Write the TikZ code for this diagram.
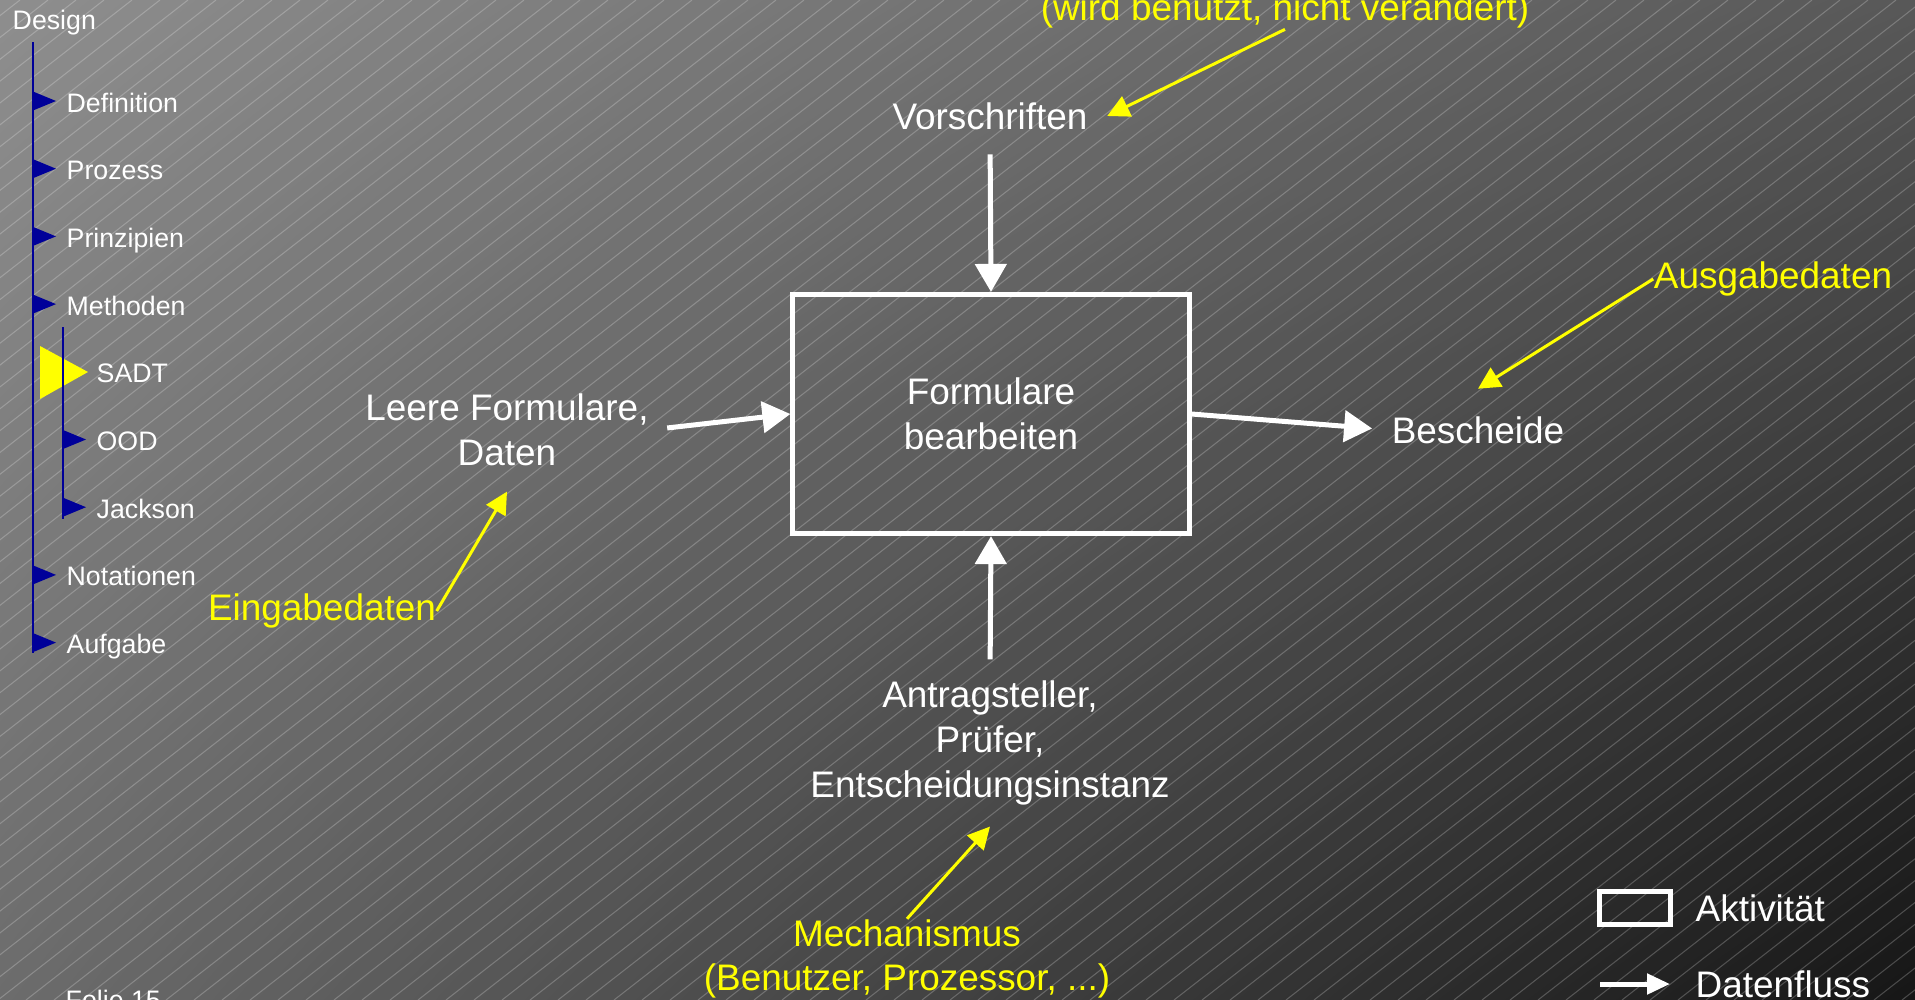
\documentclass[tikz,border=0pt]{standalone}
\usepackage{fontspec}
\setmainfont{Liberation Sans}
\usetikzlibrary{arrows.meta,shadings}
\definecolor{navy}{RGB}{0,0,153}
\definecolor{hint}{RGB}{255,255,0}
\definecolor{bgul}{RGB}{142,142,142}
\definecolor{bgur}{RGB}{88,88,88}
\definecolor{bgll}{RGB}{108,108,108}
\definecolor{bglr}{RGB}{22,22,22}

\begin{document}
\begin{tikzpicture}[x=0.01cm,y=-0.01cm,
  txt/.style={text=white,font=\fontsize{10.5}{12.7}\selectfont,align=center,inner sep=0pt},
  hinttxt/.style={txt,text=hint},
  menu/.style={text=white,font=\fontsize{7.6}{9}\selectfont,inner sep=0pt,anchor=base west},
  activity/.style={draw=white,line width=0.05cm,inner sep=0pt},
  flow/.style={white,line width=0.05cm,-{Triangle[length=0.28cm,width=0.31cm]}},
  hintarrow/.style={hint,line width=0.03cm,-{Triangle[length=0.22cm,width=0.22cm]}},
  hatch/.style={white,opacity=0.22,line width=0.3pt}]
           % background
           \useasboundingbox (0,0) rectangle (1915,1000);
           \shade[upper left=bgul,upper right=bgur,lower left=bgll,lower right=bglr] (0,0) rectangle (1915,1000);
           \begin{scope}
             \clip (0,0) rectangle (1915,1000);
             \foreach \k in {-1290,-1262,...,1915}
               \draw[hatch] (\k,1000) -- ++(1282,-1000);
           \end{scope}
           % menu
           \node[menu] (design) at (12,29) {Design};
           \draw[navy,line width=0.025cm] (33,42) -- (33,653);
           \foreach \i/\name in {0/Definition,1/Prozess,2/Prinzipien,3/Methoden,7/Notationen,8/Aufgabe}{
             \fill[navy] (33,91.5+67.7*\i) -- (56,101+67.7*\i) -- (33,110.5+67.7*\i) -- cycle;
             \node[menu] (m\i) at (66,112+67.7*\i) {\name};
           }
           \fill[hint] (40,346) -- (88,372) -- (40,399) -- cycle;
           \node[menu] (m4) at (96,382) {SADT};
           \foreach \i/\name in {5/OOD,6/Jackson}{
             \fill[navy] (63,91.5+67.7*\i) -- (86,101+67.7*\i) -- (63,110.5+67.7*\i) -- cycle;
             \node[menu] (m\i) at (96,112+67.7*\i) {\name};
           }
           \draw[navy,line width=0.025cm] (63,327) -- (63,519);
           \node[menu] (folie) at (65,1009) {Folie 15};
           % activity
           \node[activity,txt,minimum width=3.96cm,minimum height=2.39cm] (box) at (991,414) {Formulare\\bearbeiten};
           \node[txt] (vor) at (990,116) {Vorschriften};
           \node[txt] (leere) at (507,430) {Leere Formulare,\\Daten};
           \node[txt] (besch) at (1478,430) {Bescheide};
           \node[txt] (antrag) at (990,743) {Antragsteller,\\Prüfer,\\Entscheidungsinstanz};
           \draw[flow,shorten <=0.24cm] (vor.south) -- (box.north);
           \draw[flow,shorten <=0.18cm] (leere.east) -- (box.west);
           \draw[flow,shorten >=0.19cm] (box.east) -- (besch.west);
           \draw[flow,shorten <=0.21cm] (antrag.north) -- (box.south);
           % hints
           \node[hinttxt,anchor=base] (steuer) at (1285,21) {(wird benutzt, nicht verändert)};
           \node[hinttxt] (ausgabe) at (1773,279) {Ausgabedaten};
           \node[hinttxt] (eingabe) at (322,611) {Eingabedaten};
           \node[hinttxt] (mech) at (907,959) {Mechanismus\\(Benutzer, Prozessor, ...)};
           \draw[hintarrow] (steuer.south) -- ([xshift=0.19cm]vor.east);
           \draw[hintarrow] (ausgabe.west) -- ([yshift=0.27cm]besch.north);
           \draw[hintarrow] (eingabe.east) -- ([yshift=-0.25cm]leere.south);
           \draw[hintarrow] (mech.north) -- ([yshift=-0.21cm]antrag.south);
           % legend
           \node[activity,minimum width=0.71cm,minimum height=0.33cm] (aktbox) at (1635,908) {};
           \node[txt,anchor=west] (akt) at (1695,908) {Aktivität};
           \coordinate (flowa) at (1600,984);
           \coordinate (flowb) at (1670,984);
           \node[txt,anchor=west] (datfl) at (1695,984) {Datenfluss};
           \draw[white,line width=0.05cm,-{Triangle[length=0.23cm,width=0.2cm]}] (flowa) -- (flowb);
\end{tikzpicture}
\end{document}
